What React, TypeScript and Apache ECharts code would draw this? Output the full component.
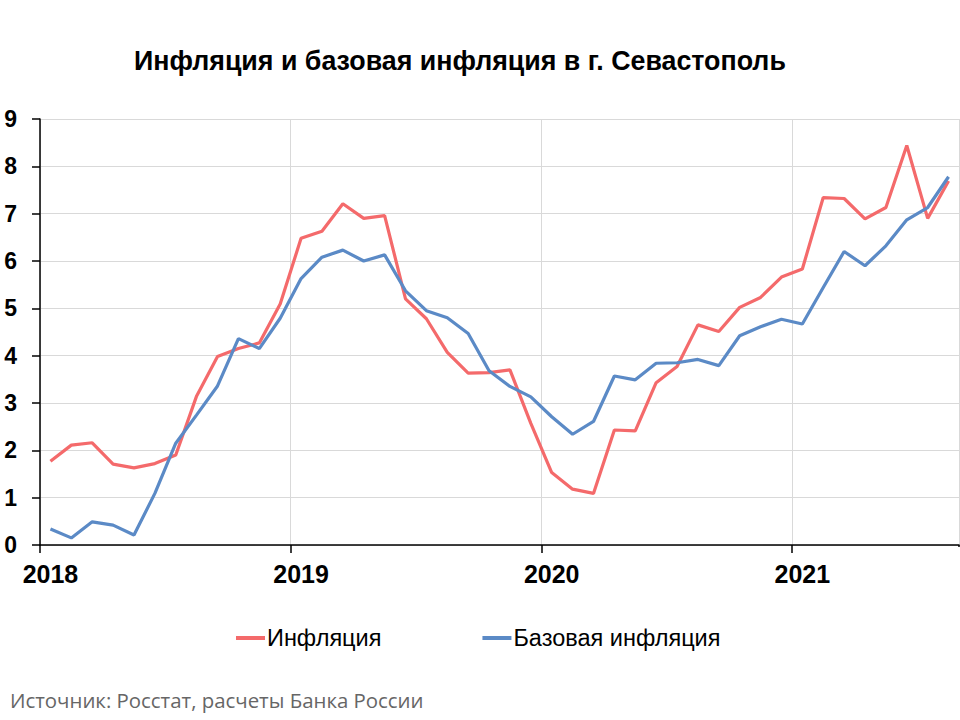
import React, { useEffect, useRef } from "react";
import * as echarts from "echarts";

const years = [2018, 2019, 2020, 2021];
const monthsPerYear = 12;
const lastYearMonths = 8;

const inflation = [
  1.77, 2.11, 2.16, 1.71, 1.63, 1.72, 1.9, 3.15, 3.98, 4.15, 4.27, 5.09,
  6.48, 6.63, 7.21, 6.9, 6.96, 5.2, 4.78, 4.07, 3.63, 3.64, 3.7, 2.57,
  1.53, 1.18, 1.09, 2.43, 2.41, 3.43, 3.77, 4.65, 4.51, 5.02, 5.23, 5.66,
  5.83, 7.34, 7.32, 6.89, 7.13, 8.44, 6.9, 7.69,
];

const coreInflation = [
  0.34, 0.15, 0.49, 0.42, 0.21, 1.09, 2.15, 2.75, 3.36, 4.36, 4.15, 4.79,
  5.63, 6.08, 6.23, 6.0, 6.13, 5.37, 4.95, 4.8, 4.47, 3.68, 3.35, 3.13,
  2.71, 2.34, 2.61, 3.57, 3.49, 3.84, 3.85, 3.92, 3.79, 4.42, 4.61, 4.77,
  4.67, 5.44, 6.2, 5.9, 6.32, 6.87, 7.13, 7.78,
];

const seriesNames = ["Инфляция", "Базовая инфляция"];
const titleText = "Инфляция и базовая инфляция в г. Севастополь";
const sourceText = "Источник: Росстат, расчеты Банка России";

// category labels: one per month, year shown on January
const categories: string[] = [];
years.forEach((y, yi) => {
  const n = yi === years.length - 1 ? lastYearMonths : monthsPerYear;
  for (let m = 0; m < n; m++) categories.push(m === 0 ? String(y) : `${y}-${m + 1}`);
});

const RED = "#F46A6B";
const BLUE = "#5B8AC6";
const FONT = "'Liberation Sans', Arial, sans-serif";

export default function App() {
  const ref = useRef<HTMLDivElement>(null);
  useEffect(() => {
    if (!ref.current) return;
    const chart = echarts.init(ref.current, null, { renderer: "svg" });
    const yearIdx = (i: number) => i % monthsPerYear === 0;
    chart.setOption({
      animation: false,
      backgroundColor: "#ffffff",
      title: {
        text: titleText,
        left: 129,
        top: 42,
        textStyle: { fontFamily: FONT, fontSize: 26.8, fontWeight: "bold", color: "#000" },
      },
      legend: {
        data: seriesNames,
        left: 231,
        top: 621,
        itemGap: 101,
        itemWidth: 29,
        itemHeight: 4,
        icon: "rect",
        textStyle: { fontFamily: FONT, fontSize: 23.5, color: "#000", padding: [0, 0, 0, -3] },
      },
      graphic: [
        {
          type: "rect",
          shape: { x: 953, y: 547, width: 7, height: 10 },
          style: { fill: "#ffffff" },
          z: 100,
        },
        {
          type: "text",
          left: 10,
          top: 690,
          style: {
            text: sourceText,
            fontFamily: "'Open Sans', 'Noto Sans', sans-serif",
            fontSize: 20.4,
            fill: "#666666",
          },
        },
      ],
      grid: { left: 40, right: 1, top: 119, bottom: 175, containLabel: false },
      xAxis: {
        type: "category",
        data: categories,
        boundaryGap: true,
        axisLine: { lineStyle: { color: "#000", width: 1.5 } },
        axisTick: { show: true, interval: (i: number) => yearIdx(i), length: 8, lineStyle: { color: "#000", width: 1.5 } },
        axisLabel: {
          interval: (i: number) => yearIdx(i),
          formatter: (v: string) => v.slice(0, 4),
          margin: 16,
          fontFamily: FONT,
          fontSize: 25,
          fontWeight: "bold",
          color: "#000",
        },
        splitLine: { show: true, interval: (i: number) => yearIdx(i), lineStyle: { color: "#d9d9d9", width: 1 } },
      },
      yAxis: {
        type: "value",
        min: 0,
        max: 9,
        interval: 1,
        axisLine: { show: true, lineStyle: { color: "#000", width: 1.5 } },
        axisTick: { show: true, length: 8, lineStyle: { color: "#000", width: 1.5 } },
        axisLabel: {
          margin: 23,
          fontFamily: FONT,
          fontSize: 23,
          fontWeight: "bold",
          color: "#000",
        },
        splitLine: { show: true, lineStyle: { color: "#d9d9d9", width: 1 } },
      },
      series: [
        {
          name: seriesNames[0],
          type: "line",
          data: inflation,
          symbol: "none",
          lineStyle: { color: RED, width: 3.2 },
          itemStyle: { color: RED },
          z: 2,
        },
        {
          name: seriesNames[1],
          type: "line",
          data: coreInflation,
          symbol: "none",
          lineStyle: { color: BLUE, width: 3.2 },
          itemStyle: { color: BLUE },
          z: 3,
        },
      ],
    });
    return () => chart.dispose();
  }, []);
  return (
    <div
      ref={ref}
      style={{ position: "fixed", left: 0, top: 0, width: 960, height: 720, background: "#fff" }}
    />
  );
}
